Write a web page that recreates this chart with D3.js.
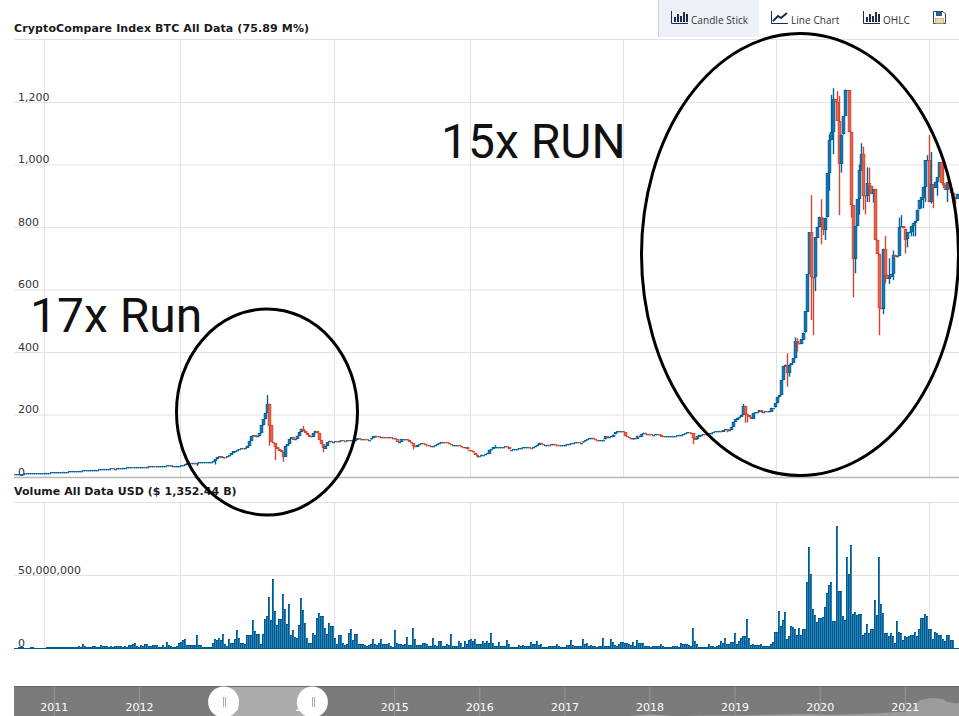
<!DOCTYPE html>
<html><head><meta charset="utf-8">
<script src="https://cdnjs.cloudflare.com/ajax/libs/d3/7.8.5/d3.min.js"></script>
<style>html,body{margin:0;padding:0;background:#fff;overflow:hidden}svg{display:block}</style>
</head><body><div id="c"></div>
<script>
const BAR_COUNT = 472;
// weekly closes; each segment is [first bar index, values]
const closeSeg1 = [0,[10,10,11,11,11,12,12,12,12,13,13,13,13,13,13,14,14,14,15,15,15,16,16,16,17,17,17,18,18,18,19,19,20,20,21,21,21,22,23,23,24,24,25,25,26,26,26,27,28,27,27,28,29,29,30,30,31,31,31,30,31,32,32,33,33,32,33,34,34,35,33,34,34,35,36,36,37,37]];
const closeSeg2 = [78,[33,34,35,36,36,37,37,41,46,46,45,46,45,46,47,47,47,47,47,48,49,52,58,64,67,62,64,63,66,70,76,82,84,88,90,92,91,94,100,115,130,134,129,130,140,165,185,205,235]];
const closeSeg3 = [127,[165,112,108,95,90,85,80,65,100,105,122,128,120,122,132,145,155,148,142,135,130,128,140,146,140,118,105,92,100,112,116,112,112,114,113,116,117,116,115,117,115,117,116,118,125,123,122,122,121,120,120,124,130,132,131,129,129,128,127,126,127,125,125,121,112,113]];
const closeSeg4 = [193,[122,122,122,118,112,108,100,96,103,106,108,107,104,102,99,99,100,103,107,110,112,112,111,110,106,103,103,103,103,100,96,95,96,88,86,82,78,72,68,68,72,72,74,76,88,90,95,97,97,97,97,97,98,96,88,88,90,90,91,92,94,95,96,96,93,92,96,100,104,110,106,103,103,104,103,105,106,104,103,102,102,102,104,106,107,108,109,111,111,110,110,114,118,122,125,126,122,119,118,118,118,120,131,126,128,130,136,143,146,146,146,144,130,128,124,120,124,124,132,128,138,142,139,139,138,136,136,137,137,136,131,130,130,130,130,131,131,131,133,135,136,137,140,143,142,140,125,120,130,135,136,137,136,138,140,142,144,146,146,148]];
const closeSeg5 = [353,[145,150,154,150,152,161,177,185,190,193,200,228,202,198,193,186,205,207,207,213,206,208,210,209,210,222,222,236,255,262,310,355,360,334,360,365,380,435,428,425,440,462,530,650,784,639,638,767,801,833,830,792,830,972,1078,1105,1210,1200,1140,1003,1096,1155,1238,1238,1105,870,696,803,890,982,1035,902,900]];
const closeSeg6 = [426,[940,930,905,922,760,715,541,540,731,648,635,640,650,712,705,708,800,802,795,760,783,785,803,813,820,856,885,895,929,1014,1014,879,937,925,945,960,1007,940,935,920,945,925,910,895,890,907]];
// notable wicks: [bar index, value]
const wickHighs = [[126,262],[144,164],[150,148],[240,102],[364,234],[386,396],[390,447],[391,444],[398,902],[403,889],[407,1097],[408,1223],[409,1244],[411,1235],[412,1220],[415,1240],[422,1000],[423,1068],[424,1057],[426,991],[427,990],[435,772],[437,700],[439,725],[442,830],[443,838],[445,790],[454,910],[456,1030],[457,1095],[458,1040],[464,1022]];
const wickLows = [[91,35],[100,40],[127,100],[130,54],[134,49],[154,79],[199,88],[231,62],[339,105],[356,143],[365,174],[366,174],[386,289],[387,321],[391,401],[393,426],[398,502],[399,454],[400,595],[403,745],[404,774],[405,758],[407,916],[409,1033],[412,838],[413,974],[418,830],[419,575],[420,652],[422,840],[424,855],[425,840],[426,880],[427,880],[429,878],[432,454],[434,521],[435,620],[437,618],[439,630],[445,715],[446,735],[448,770],[449,770],[450,770],[453,860],[454,860],[455,880],[458,875],[459,860],[461,900],[464,925],[466,880],[470,870]];
// volume in millions USD
const volumeA = [.3,.3,.5,1,.4,.3,.3,.3,1,.5,.3,.3,.3,.3,.3,.3,.7,.7,.7,.7,.7,.7,.7,.7,.7,.7,.7,.7,.7,.7,.7,.7,1.4,.9,3,1.5,1,.7,.8,1.5,1.5,.9,.8,2.2,1.5,1.2,1.2,.8,1.4,.9,1.5,1.5,1.5,1.4,.9,1.3,1,2,2,2.5,3.3,1.6,1,2.2,1.2,2.6,2.6,1.3,1.4,2,2.2,2.2,.9,.9,1.8,.9,4.2,1.8,1.6,1,1,1.6,3.6,4,5.6,6.4,2.2,2.2,2,1.8,2.2,8.6,2.3,2.3,.8,.8,.8,.8,.8,3.6,6.3,5.8,7,5.8,9.7,2.8,1.3,6.5,3.6,3.6,6.3,12.4,7,3.5,3.2,2.4,9,9,9,19.5,11.6,9.7,9.7,3,9.7,20,22,35,19,47,25.5,16,20,20,37,27,16.5,30,8.7,12,7.5,7,15.5,34,26,17,7,3.5];
const volumeB = [3.5,10,8.8,20.5,24,22,22,14,9.5,17,15,15,7,2.8,8.7,8.7,3.5,2.2,3,10,12.8,5.5,9.5,9.5,3,3,3,2,1.5,2,2.7,6,3,2,3.5,6,3,2.4,3,3.5,1.2,1,12.2,3.5,3,2.7,2,3,7.7,2.3,2.3,14,6.5,2.3,2.3,2,3.5,3.5,2.5,1.2,1.5,7,2,1.7,5,4.5,1.3,1.3,3,2,9.5,1.5,1.5,1.5,5,3.5,1,5,3,5.5,6.3,5,6.3,3];
const volumeC = [2.8,2.8,5,3.2,5,3.5,10,3.6,1.6,1.6,3.8,1.5,1.4,1.4,5.8,3,.8,.8,.8,.8,2.2,1.4,2.2,1.5,1.3,1.3,4.2,3,3,5,1.8,3,.8,.8,.8,1.6,1.6,1.6,1.2,3,1.6,.8,.8,.8,2.2,2.2,5.7,2.2,1.6,1.3,1.3,1.3,6.5,2.6,3.2,1.5,2.2,1.6,1.2,1,1.5,1.5,7,1.5,1.5,1.5,6.3,4.2,2.2,1.5,3,4.2,4.4,3.6,3.4,2.6,2.2,4.2,1.5,5.7,3.2,3.2,3.2,1.6,1.6,1.2,.9,1.4,1.4,1.4,1.4,3,1.6,.7,.7,.7,.7,1.4,1.4,1.2,.7,3.6,2.4,3,3,2,1.5,14,5,3,.8,.7,.7,.7,.7,3,1.6,1.3,.8,1.3,2,5,3.2,7,3,3,4.4,4.4,10.5,2.6,5,7,8.5,8.5,20,7,2.2,3,2.2,2.2,2.2,3,1.5,1.5,1.5,1.5,3,4.2,11.3,10.8,25.5,15.4,19,24.4,6.5,8.5,15.4,14.5,13,9.2,13.4,9,13,13,45,69,50.6,27,22.8,17.8,20.5,20.5,21.4,28,37.6,43,45,18.7,18.7,83.5,39,39,22,19.4,62,50.6,70.5,23.3,24.6,22.3,23.3,23.3,9,10,16.6,10,13,13,33,22.8,62,30,24,10,10,8,10,8,3.4,18.5,11,10,5.7,8,7.5,8.4,9,9,11,8.4,13,20.7,20.7,23,22,13,13,6.4,11,10,9,9,6.4,5,9,9,5.7,5.7];
const priceTicks = [0,200,400,600,800,1000,1200];
const volumeTicks = [0,50000000];
const gridBars = [15,83,160,228,304.5,381,457.5];
const navYears = [2011,2012,2013,2014,2015,2016,2017,2018,2019,2020,2021];
const navAreaYears = [2017.65,2018.0,2018.3,2018.6,2019.0,2019.6,2019.85,2020.1,2020.55,2021.0,2021.1,2021.17,2021.29,2021.35,2021.44,2021.49,2021.59,2021.65,2021.7];
const navAreaValues = [10,180,50,90,100,180,220,140,210,340,680,1100,1240,1230,1180,1000,900,940,1080];
const title1 = "CryptoCompare Index BTC All Data (75.89 M%)";
const title2 = "Volume All Data USD ($ 1,352.44 B)";
const toolbarLabels = ["Candle Stick","Line Chart","OHLC"];

const W=959,H=716;
const closes=new Array(BAR_COUNT);
[closeSeg1,closeSeg2,closeSeg3,closeSeg4,closeSeg5,closeSeg6].forEach(([s,a])=>a.forEach((v,k)=>{if(s+k<BAR_COUNT)closes[s+k]=v;}));
for(let i=1;i<BAR_COUNT;i++) if(closes[i]===undefined) closes[i]=closes[i-1];
const highMap=new Map(wickHighs), lowMap=new Map(wickLows);
const candles=closes.map((c,i)=>{const o=i?closes[i-1]:c;
  return {i,o,c,h:Math.max(highMap.get(i)||0,o,c),l:Math.min(lowMap.has(i)?lowMap.get(i):1e9,o,c)};});
const volumes=volumeA.concat(volumeB,volumeC).map(v=>v*1e6);

const x=d3.scaleLinear().domain([0,BAR_COUNT]).range([14,958]);
const y=d3.scaleLinear().domain([0,1200]).range([477,102]);
const yV=d3.scaleLinear().domain([0,50000000]).range([648,575]);
const nav=d3.scaleLinear().domain([2011,2021]).range([54.3,905.3]);
const navV=d3.scaleLinear().domain([0,1240]).range([717,698]);

const svg=d3.select("#c").append("svg").attr("width",W).attr("height",H);
const font='"DejaVu Sans",Verdana,sans-serif';
svg.append("rect").attr("width",W).attr("height",H).attr("fill","#fff");

// toolbar
svg.append("rect").attr("x",658).attr("y",0).attr("width",101).attr("height",37).attr("fill","#eef0f7");
svg.append("rect").attr("x",658).attr("y",0).attr("width",1).attr("height",37).attr("fill","#cfd2de");
const iconCol="#1d2b4f";
function barIcon(x0){const g=svg.append("g").attr("transform",`translate(${x0},11)`);
  g.append("path").attr("d","M0.5 0V12.5H17").attr("fill","none").attr("stroke",iconCol);
  [[3,6],[6,3],[9,5],[12,1],[15,3]].forEach(([a,b])=>g.append("rect").attr("x",a).attr("y",b).attr("width",2).attr("height",11-b).attr("fill",iconCol));}
barIcon(671);barIcon(863);
const lg=svg.append("g").attr("transform","translate(771,11)");
lg.append("path").attr("d","M0.5 0V12.5H17").attr("fill","none").attr("stroke",iconCol);
lg.append("path").attr("d","M2 10L7 5L10 7L16 2").attr("fill","none").attr("stroke",iconCol).attr("stroke-width",2);
const sg=svg.append("g").attr("transform","translate(933,11)");
sg.append("path").attr("d","M0.5 0.5H10L12.5 3V12.5H0.5Z").attr("fill","#fff").attr("stroke","#33415f");
sg.append("rect").attr("x",3).attr("y",1).attr("width",6).attr("height",4).attr("fill","#2c5f8a");
sg.append("rect").attr("x",2.5).attr("y",7.5).attr("width",8).attr("height",5).attr("fill","#e9d9a8").attr("stroke","#9a8c60").attr("stroke-width",.5);
svg.selectAll("text.tb").data(toolbarLabels).join("text").attr("class","tb")
  .attr("x",(d,i)=>[691,791,883][i]).attr("y",23.5).attr("font-family",'"Open Sans",sans-serif').attr("font-size",10)
  .attr("letter-spacing",0.06).attr("fill","#333").text(d=>d);

// titles
svg.append("text").attr("x",14).attr("y",32).attr("font-family",font).attr("font-weight","bold").attr("font-size",11).attr("letter-spacing",.12).attr("fill","#1a1a1a").text(title1);
svg.append("text").attr("x",14).attr("y",495).attr("font-family",font).attr("font-weight","bold").attr("font-size",11).attr("letter-spacing",.06).attr("fill","#1a1a1a").text(title2);

// grids
const gridCol="#e2e2e2";
svg.selectAll("line.vg1").data(gridBars).join("line").attr("class","vg1").attr("x1",d=>Math.round(x(d))+.5).attr("x2",d=>Math.round(x(d))+.5).attr("y1",39).attr("y2",477).attr("stroke",gridCol);
svg.selectAll("line.vg2").data(gridBars).join("line").attr("class","vg2").attr("x1",d=>Math.round(x(d))+.5).attr("x2",d=>Math.round(x(d))+.5).attr("y1",502).attr("y2",648).attr("stroke",gridCol);
[[39.5],[502.5]].forEach(([yy])=>svg.append("line").attr("x1",14).attr("x2",W).attr("y1",yy).attr("y2",yy).attr("stroke",gridCol));

function axisOf(scale,ticks){
  const g=svg.append("g").attr("transform","translate(14,0)")
    .call(d3.axisRight(scale).tickValues(ticks).tickSize(945).tickFormat(d3.format(",")));
  g.select(".domain").remove();
  g.selectAll("line").attr("stroke",gridCol);
  g.selectAll("text").attr("x",4).attr("dy",0).attr("y",-2).attr("text-anchor","start")
    .attr("font-family",font).attr("font-size",11).attr("fill","#333");
  return g;
}
axisOf(y,priceTicks);
axisOf(yV,volumeTicks);
svg.append("line").attr("x1",14).attr("x2",W).attr("y1",477.5).attr("y2",477.5).attr("stroke","#b8b8b8").attr("stroke-width",1.5);

// candles
const blueS="#00629a", redS="#d8452e";
const cg=svg.append("g").selectAll("g").data(candles).join("g");
cg.append("line").attr("x1",d=>x(d.i)+1.5).attr("x2",d=>x(d.i)+1.5).attr("y1",d=>y(d.h)).attr("y2",d=>y(d.l))
  .attr("stroke",d=>d.c>=d.o?blueS:redS).attr("stroke-width",1.4);
cg.append("rect").attr("x",d=>x(d.i)+.25).attr("width",2.5)
  .attr("y",d=>Math.round(y(Math.max(d.o,d.c)))+.5)
  .attr("height",d=>Math.max(.5,Math.round(Math.abs(y(d.o)-y(d.c)))-1))
  .attr("fill",d=>d.c>=d.o?"#1a76ad":"#e56550")
  .attr("stroke",d=>d.c>=d.o?blueS:redS)
  .attr("stroke-width",d=>Math.abs(y(d.o)-y(d.c))<1.5?0.5:1);

// volume: a lighter column with a darker edge and cap
const vb=svg.append("g").selectAll("g").data(volumes).join("g");
vb.append("rect").attr("x",(d,i)=>x(i)).attr("width",2).attr("y",d=>Math.round(yV(d))).attr("height",d=>648-Math.round(yV(d))).attr("fill","#2a83b6");
vb.append("rect").attr("x",(d,i)=>x(i)).attr("width",1).attr("y",d=>Math.round(yV(d))).attr("height",d=>648-Math.round(yV(d))).attr("fill","#00598f");
vb.append("rect").attr("x",(d,i)=>x(i)).attr("width",2).attr("y",d=>Math.round(yV(d))).attr("height",1).attr("fill","#00598f");
svg.append("line").attr("x1",14).attr("x2",W).attr("y1",648.5).attr("y2",648.5).attr("stroke","#00598f").attr("stroke-width",1);

// navigator
svg.append("rect").attr("x",14).attr("y",686).attr("width",W-14).attr("height",30).attr("fill","#7b7b7b");
svg.append("rect").attr("x",223).attr("y",686).attr("width",90).attr("height",30).attr("fill","#ababab");
const area=d3.area().x((d,i)=>nav(navAreaYears[i])).y0(717).y1(d=>navV(d));
svg.append("path").datum(navAreaValues).attr("d",area).attr("fill","#9c9c9c");
svg.append("line").attr("x1",14).attr("x2",W).attr("y1",686.5).attr("y2",686.5).attr("stroke","#666");
svg.selectAll("line.nt").data(navYears).join("line").attr("class","nt").attr("x1",d=>nav(d)).attr("x2",d=>nav(d)).attr("y1",687).attr("y2",716).attr("stroke","#969696");
svg.selectAll("text.ny").data(navYears).join("text").attr("class","ny").attr("x",d=>nav(d)).attr("y",711).attr("text-anchor","middle")
  .attr("font-family",font).attr("font-size",11).attr("fill","#fff").text(d=>d);
[223.6,312.4].forEach(cx=>{
  svg.append("circle").attr("cx",cx).attr("cy",702).attr("r",15.5).attr("fill","#fff");
  [0,2].forEach(dx=>svg.append("line").attr("x1",Math.floor(cx)+dx+.5).attr("x2",Math.floor(cx)+dx+.5).attr("y1",697).attr("y2",707).attr("stroke","#aaa"));
});

// hand-drawn annotations
svg.append("ellipse").attr("cx",267).attr("cy",412).attr("rx",90.5).attr("ry",103).attr("fill","none").attr("stroke","#000").attr("stroke-width",3);
svg.append("ellipse").attr("cx",800).attr("cy",254.5).attr("rx",158.5).attr("ry",221).attr("fill","none").attr("stroke","#000").attr("stroke-width",3);
svg.append("text").attr("x",441).attr("y",158).attr("font-family","Roboto,sans-serif").attr("font-size",48).attr("fill","#111").text("15x RUN");
svg.append("text").attr("x",30).attr("y",332).attr("font-family","Roboto,sans-serif").attr("font-size",48).attr("fill","#111").text("17x Run");
</script></body></html>
